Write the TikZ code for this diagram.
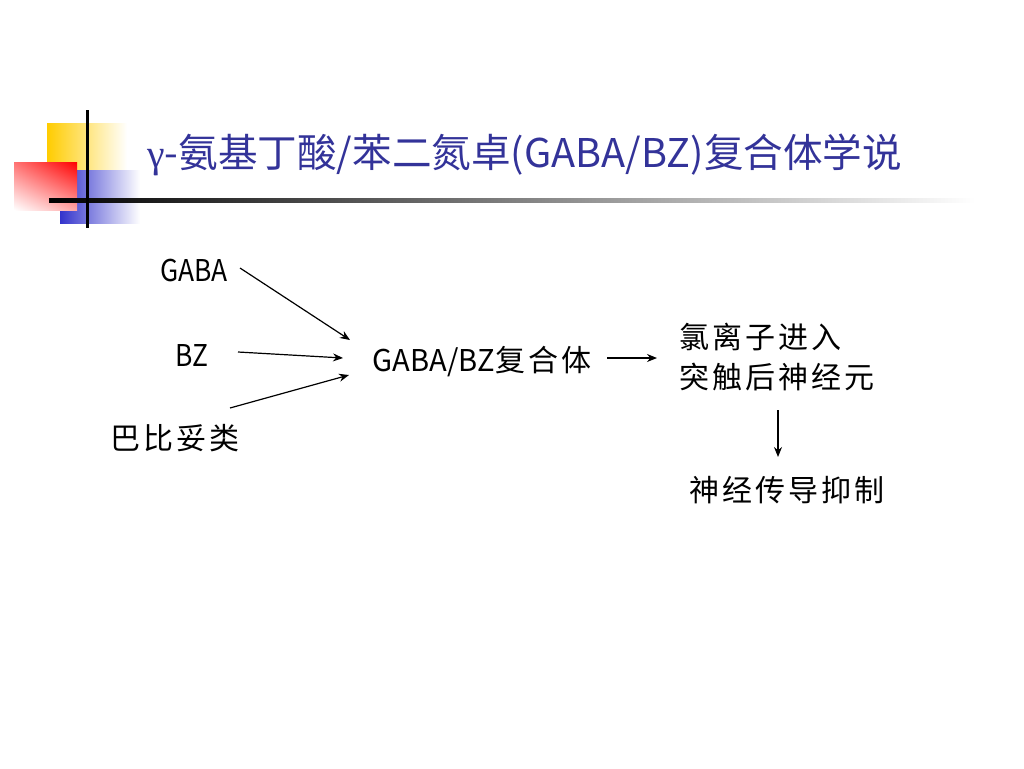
\documentclass[tikz,border=0pt]{standalone}
\usepackage{fontspec}
\setmainfont{Noto Sans CJK SC}
\newfontfamily\gamfont{Liberation Serif}
\newfontfamily\cjkwide[LetterSpace=10]{Noto Sans CJK SC}
\usetikzlibrary{arrows.meta,calc,shadings}
\definecolor{titleblue}{HTML}{333399}
\definecolor{decoyellow}{HTML}{FFCC00}
\definecolor{decoblue}{HTML}{3333CC}
\newcommand{\narrowlat}[1]{\scalebox{0.88}[1]{#1}}
\tikzset{
  lbl/.style={inner sep=0pt, font=\fontsize{22.5pt}{30pt}\selectfont, text=black},
  conn/.style={line width=0.9pt, -{Stealth[length=7.5pt,width=6pt]}},
}
\begin{document}
\begin{tikzpicture}[x=0.75pt,y=-0.75pt]
\useasboundingbox (0,0) rectangle (1024,768);
% decoration
\shade[left color=decoyellow, middle color=decoyellow, right color=white] (47,123) rectangle (127,200);
\shade[left color=decoblue, middle color=decoblue, right color=white] (60,170) rectangle (140,223);
\shade[upper left=red!55, upper right=red, lower left=white, lower right=red!35] (14,162) rectangle (77,210);
\shade[left color=black, right color=white] (49,198.5) rectangle (975,202.5);
\fill[black] (85.5,110) rectangle (88.5,228);
% title
\node[anchor=west, inner sep=0pt, text=titleblue, font=\fontsize{29.7pt}{34pt}\selectfont] (title) at (147,155) {{\gamfont γ}-氨基丁酸/苯二氮卓(GABA/BZ)复合体学说};
% diagram
\node[lbl] (gaba) at (194,270) {\narrowlat{GABA}};
\node[lbl] (bz) at (192,355) {\narrowlat{BZ}};
\node[lbl] (barb) at (175,438) {\cjkwide 巴比妥类};
\node[lbl] (complex) at (482,362) {\scalebox{0.97}[1]{GABA/BZ}\cjkwide 复合体};
\node[lbl, anchor=west, align=left] (cl) at (679,357) {\cjkwide 氯离子进入\\\cjkwide 突触后神经元};
\node[lbl] (inhib) at (787,490) {\cjkwide 神经传导抑制};
\draw[conn] ($(gaba)+(46,-2)$) -- ($(complex)+(-132,-22)$);
\draw[conn] ($(bz)+(46,-3)$) -- ($(complex)+(-139,-4)$);
\draw[conn] ($(barb)+(55,-30)$) -- ($(complex)+(-133,13)$);
\draw[conn] ($(complex)+(125,-4)$) -- ($(cl.west)+(-22,1)$);
\draw[conn] ($(inhib)+(-9,-80)$) -- ($(inhib)+(-9,-33)$);
\end{tikzpicture}
\end{document}
